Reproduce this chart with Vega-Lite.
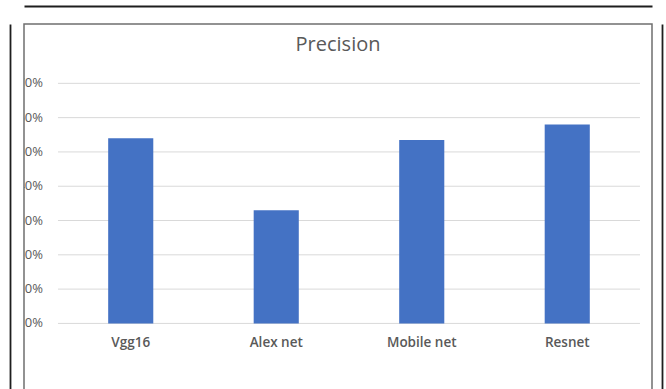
{
  "$schema": "https://vega.github.io/schema/vega-lite/v6.json",
  "autosize": {"type": "none"},
  "padding": {"left": 24, "top": 24, "right": 14, "bottom": 0},
  "width": 628,
  "height": 368,
  "background": "white",
  "title": {
    "text": "Precision",
    "font": "Open Sans",
    "fontSize": 20,
    "fontWeight": "normal",
    "color": "#595959",
    "anchor": "middle",
    "frame": "group",
    "offset": -49
  },
  "config": {
    "font": "Open Sans",
    "view": {"stroke": "#6f6f6f", "strokeWidth": 1.5}
  },
  "datasets": {
    "models": [
      {"model": "Vgg16", "precision": 0.54},
      {"model": "Alex net", "precision": 0.33},
      {"model": "Mobile net", "precision": 0.535},
      {"model": "Resnet", "precision": 0.58}
    ],
    "ticks": [
      {"tick": 0}, {"tick": 0.1}, {"tick": 0.2}, {"tick": 0.3},
      {"tick": 0.4}, {"tick": 0.5}, {"tick": 0.6}, {"tick": 0.7}
    ]
  },
  "resolve": {"axis": {"x": "independent", "y": "independent"}},
  "layer": [
    {
      "data": {"name": "ticks"},
      "mark": {"type": "rule", "color": "#d9d9d9", "strokeWidth": 1},
      "encoding": {
        "x": {
          "datum": "Vgg16", "bandPosition": 0, "type": "nominal",
          "scale": {"domain": ["Vgg16", "Alex net", "Mobile net", "Resnet"], "paddingInner": 0, "paddingOuter": 0.158, "align": 0.739},
          "axis": {"orient": "top", "offset": 18, "domain": true, "domainColor": "#1e1e1e", "domainWidth": 1.8, "ticks": false, "labels": false, "grid": false, "title": null}
        },
        "x2": {"datum": "Resnet", "bandPosition": 1},
        "y": {
          "field": "tick", "type": "quantitative",
          "scale": {"domain": [-0.2, 0.873], "nice": false, "zero": false},
          "axis": {"orient": "right", "offset": 10, "domain": true, "domainColor": "#1e1e1e", "domainWidth": 1.8, "ticks": false, "labels": false, "grid": false, "title": null}
        }
      }
    },
    {
      "data": {"name": "ticks"},
      "mark": {"type": "text", "clip": true, "align": "right", "baseline": "middle", "dx": -15, "font": "Open Sans", "fontSize": 13, "color": "#595959"},
      "encoding": {
        "x": {
          "datum": "Vgg16", "bandPosition": 0, "type": "nominal",
          "scale": {"domain": ["Vgg16", "Alex net", "Mobile net", "Resnet"], "paddingInner": 0, "paddingOuter": 0.158, "align": 0.739},
          "axis": null
        },
        "y": {
          "field": "tick", "type": "quantitative",
          "scale": {"domain": [-0.2, 0.873], "nice": false, "zero": false},
          "axis": {"orient": "left", "offset": 14, "domain": true, "domainColor": "#1e1e1e", "domainWidth": 1.8, "ticks": false, "labels": false, "grid": false, "title": null}
        },
        "text": {"field": "tick", "type": "quantitative", "format": ".0%"}
      }
    },
    {
      "data": {"name": "models"},
      "mark": {"type": "bar", "color": "#4472c4", "width": {"band": 0.31}},
      "encoding": {
        "x": {
          "field": "model", "type": "nominal", "sort": null,
          "scale": {"domain": ["Vgg16", "Alex net", "Mobile net", "Resnet"], "paddingInner": 0, "paddingOuter": 0.158, "align": 0.739},
          "axis": {"orient": "bottom", "offset": -69, "domain": false, "ticks": false, "grid": false, "title": null, "labelAngle": 0, "labelPadding": 12, "labelFont": "Open Sans", "labelFontSize": 13.5, "labelFontWeight": 600, "labelColor": "#595959"}
        },
        "y": {
          "field": "precision", "type": "quantitative",
          "scale": {"domain": [-0.2, 0.873], "nice": false, "zero": false},
          "axis": null
        }
      }
    }
  ]
}
